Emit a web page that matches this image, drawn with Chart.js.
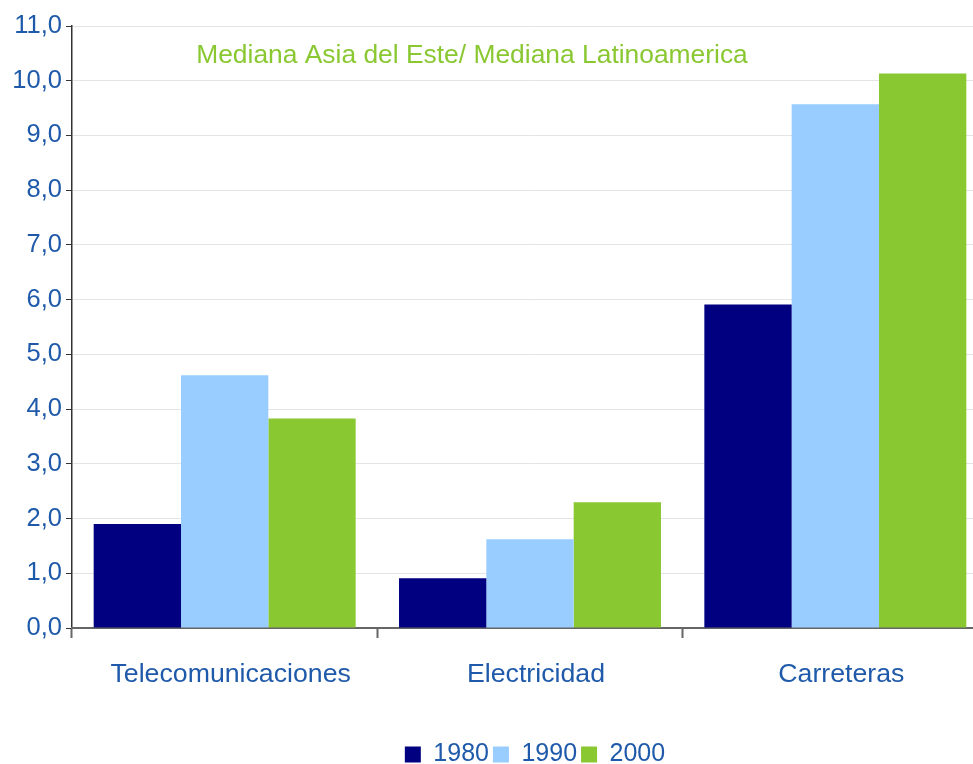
<!DOCTYPE html>
<html>
<head>
<meta charset="utf-8">
<script src="https://cdn.jsdelivr.net/npm/chart.js@4"></script>
<style>
  html, body { margin: 0; padding: 0; background: #fff; overflow: hidden; }
  #wrap { width: 973px; height: 764px; overflow: hidden; }
</style>
</head>
<body>
<div id="wrap"><canvas id="chart" width="990" height="764"></canvas></div>
<script>
const categories = ["Telecomunicaciones", "Electricidad", "Carreteras"]
const years = ["1980", "1990", "2000"]
const values1980 = [1.9, 0.91, 5.91]
const values1990 = [4.62, 1.62, 9.57]
const values2000 = [3.83, 2.3, 10.13]
const colors = ["#000080", "#99CCFF", "#8AC832"]
const chartTitle = "Mediana Asia del Este/ Mediana Latinoamerica"

const blue = "#1F5AAA"
const font = "'Liberation Sans', Arial, sans-serif"

// title drawn inside the plot, like the original
const titlePlugin = {
  id: "innerTitle",
  afterLayout(chart) {
    // nudge legend a bit to the right
    chart.legend.left += 5
    chart.legend.right += 5
  },
  afterDraw(chart) {
    const ctx = chart.ctx
    ctx.save()
    ctx.font = "26.4px " + font
    ctx.fillStyle = "#8AC832"
    ctx.textAlign = "center"
    ctx.textBaseline = "middle"
    ctx.fillText(chartTitle, 472, 56)
    ctx.restore()
  },
}

const ctx = document.getElementById("chart").getContext("2d")

new Chart(ctx, {
  type: "bar",
  data: {
    labels: categories,
    datasets: [values1980, values1990, values2000].map((vals, i) => ({
      label: years[i],
      data: vals,
      backgroundColor: colors[i],
      borderWidth: 0,
      categoryPercentage: 0.858,
      barPercentage: 1,
    })),
  },
  options: {
    responsive: false,
    animation: false,
    devicePixelRatio: 1,
    layout: { padding: { top: 26, right: 2, left: 0, bottom: -13 } },
    plugins: {
      title: { display: false },
      tooltip: { enabled: false },
      legend: {
        position: "bottom",
        fullSize: false,
        labels: {
          boxWidth: 16,
          boxHeight: 16,
          padding: 4,
          color: blue,
          font: { family: font, size: 25 },
        },
      },
    },
    scales: {
      y: {
        min: 0,
        max: 11,
        afterFit(scale) { scale.width = 72 },
        ticks: {
          stepSize: 1,
          color: blue,
          padding: 4,
          font: { family: font, size: 25.5 },
          callback: (v) => v.toFixed(1).replace(".", ","),
        },
        grid: {
          color: "#e4e4e4",
          tickColor: "#333",
          tickLength: 6,
        },
        border: { color: "#333", width: 1.5 },
      },
      x: {
        afterFit(scale) { scale.height = 110 },
        ticks: {
          color: blue,
          padding: 21,
          labelOffset: 6,
          font: { family: font, size: 26.7 },
        },
        grid: {
          offset: true,
          drawOnChartArea: false,
          tickLength: 10,
          tickColor: "#666",
          tickWidth: 2,
        },
        border: { color: "#666", width: 2 },
      },
    },
  },
  plugins: [titlePlugin],
})
</script>
</body>
</html>
